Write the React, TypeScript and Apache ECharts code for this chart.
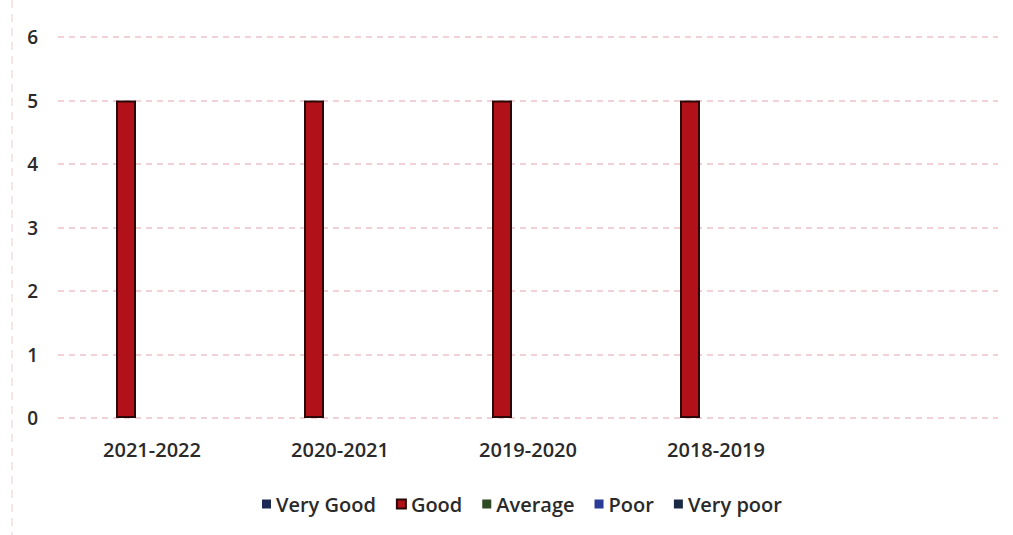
import React, { useEffect, useRef } from "react";
import * as echarts from "echarts";

const categories = ["2021-2022", "2020-2021", "2019-2020", "2018-2019", ""];
const seriesNames = ["Very Good", "Good", "Average", "Poor", "Very poor"];
const veryGood = [0, 0, 0, 0, null];
const good = [5, 5, 5, 5, null];
const average = [0, 0, 0, 0, null];
const poor = [0, 0, 0, 0, null];
const veryPoor = [0, 0, 0, 0, null];
const yTicks = { min: 0, max: 6, interval: 1 };

const colors = ["#1d2a55", "#b11219", "#2e4a22", "#2b3a96", "#1b2a44"];
const FONT = "'Open Sans', 'Liberation Sans', sans-serif";

export default function App() {
  const ref = useRef<HTMLDivElement>(null);
  useEffect(() => {
    if (!ref.current) return;
    const chart = echarts.init(ref.current, null, { renderer: "svg" });
    const values = [veryGood, good, average, poor, veryPoor];
    chart.setOption({
      animation: false,
      backgroundColor: "#ffffff",
      grid: { left: 58, right: 15, top: 37, bottom: 117 },
      legend: {
        data: seriesNames,
        left: 257,
        top: 489,
        itemWidth: 9,
        itemHeight: 9,
        itemGap: 20,
        icon: "rect",
        textStyle: { fontFamily: FONT, fontSize: 20, color: "#2a2a2a", fontWeight: 600 },
      },
      xAxis: {
        type: "category",
        data: categories,
        axisLine: { show: false },
        axisTick: { show: false },
        axisLabel: {
          fontFamily: FONT,
          fontSize: 20,
          fontWeight: 600,
          color: "#2a2a2a",
          margin: 21,
        },
      },
      yAxis: {
        type: "value",
        min: yTicks.min,
        max: yTicks.max,
        interval: yTicks.interval,
        axisLine: { show: false },
        axisTick: { show: false },
        axisLabel: {
          fontFamily: FONT,
          fontSize: 19,
          fontWeight: 600,
          color: "#2a2a2a",
          margin: 20,
        },
        splitLine: {
          lineStyle: { color: "#ecc4c9", type: [6, 5], width: 1.5 },
        },
      },
      series: seriesNames.map((name, i) => ({
        name,
        type: "bar",
        data: values[i],
        barWidth: 20,
        barGap: "30%",
        itemStyle: {
          color: colors[i],
          borderColor: i === 1 ? "#2a0808" : colors[i],
          borderWidth: i === 1 ? 2 : 0,
        },
      })),
      graphic: [
        {
          type: "line",
          shape: { x1: 12, y1: 0, x2: 12, y2: 535 },
          style: { stroke: "#efcdd2", lineWidth: 1, lineDash: [8, 6] },
          silent: true,
        },
      ],
    });
    return () => chart.dispose();
  }, []);
  return (
    <div
      ref={ref}
      style={{ position: "fixed", left: 0, top: 0, width: 1013, height: 535 }}
    />
  );
}
